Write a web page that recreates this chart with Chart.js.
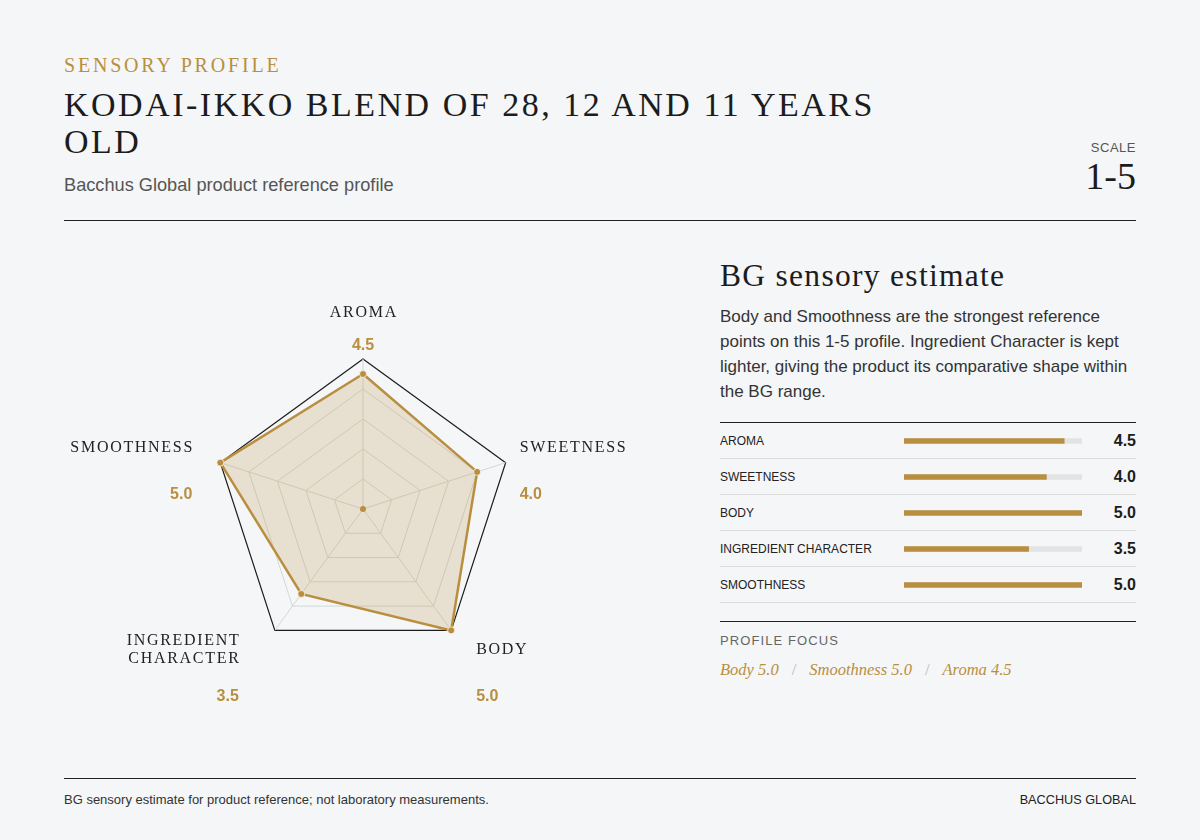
<!DOCTYPE html>
<html>
<head>
<meta charset="utf-8">
<title>Sensory profile</title>
<script src="https://cdn.jsdelivr.net/npm/chart.js@4.4.1/dist/chart.umd.min.js"></script>
<style>
  body {
    margin: 0;
    width: 1200px;
    height: 840px;
    position: relative;
    overflow: hidden;
    background: #f4f6f8;
    font-family: "Liberation Sans", Arial, sans-serif;
    color: #1f1f1f;
  }
  .abs { position: absolute; }
  .serif { font-family: "Liberation Serif", "Times New Roman", serif; }
  .rule { position: absolute; height: 1px; background: #222; }
  #kicker { left: 64px; top: 53px; font-size: 20px; line-height: 24px; letter-spacing: 2.8px; color: #b98f3f; }
  #title { left: 64px; top: 86px; width: 860px; font-size: 34px; line-height: 37px; letter-spacing: 2.5px; color: #1c1c1c; }
  #sub { left: 64px; top: 174px; font-size: 18.2px; line-height: 22px; color: #555; }
  #scaleLbl { right: 64px; top: 140px; font-size: 13px; line-height: 16px; letter-spacing: 0.5px; color: #555; text-align: right; }
  #scaleVal { right: 64px; top: 156px; font-size: 38px; line-height: 40px; color: #1c1c1c; text-align: right; }
  #radarBox { left: 63px; top: 249px; width: 600px; height: 520px; }
  #panelHead { left: 720px; top: 258px; font-size: 31.5px; line-height: 36px; letter-spacing: 1.3px; color: #1c1c1c; }
  #panelText { left: 720px; top: 304px; width: 418px; font-size: 17px; line-height: 25px; color: #333; }
  #table { left: 720px; top: 422px; width: 416px; border-top: 1px solid #222; }
  .row { position: relative; height: 36px; box-sizing: border-box; border-bottom: 1px solid #dcdcdc; }
  .row .name { position: absolute; left: 0; top: 10px; font-size: 12px; line-height: 16px; color: #222; }
  .row .val { position: absolute; right: 0; top: 8px; font-size: 16px; line-height: 20px; font-weight: bold; color: #1c1c1c; }
  #barBox { left: 904px; top: 423px; width: 178px; height: 180px; }
  #focusLbl { left: 720px; top: 633px; font-size: 13px; line-height: 16px; letter-spacing: 1.1px; color: #666; }
  #focus { left: 720px; top: 660px; font-size: 16.5px; line-height: 20px; font-style: italic; color: #b98f3f; }
  #focus .sep { color: #bbb; margin: 0 13px; font-style: normal; }
  #footL { left: 64px; top: 793px; font-size: 13px; line-height: 14px; color: #333; }
  #footR { right: 64px; top: 793px; font-size: 12.7px; line-height: 14px; color: #222; }
</style>
</head>
<body>
<div id="kicker" class="abs serif">SENSORY PROFILE</div>
<div id="title" class="abs serif">KODAI-IKKO BLEND OF 28, 12 AND 11 YEARS OLD</div>
<div id="sub" class="abs">Bacchus Global product reference profile</div>
<div id="scaleLbl" class="abs">SCALE</div>
<div id="scaleVal" class="abs serif">1-5</div>
<div class="rule" style="left:64px;top:220px;width:1072px"></div>

<div id="radarBox" class="abs"><canvas id="radar" width="600" height="520"></canvas></div>

<div id="panelHead" class="abs serif">BG sensory estimate</div>
<div id="panelText" class="abs">Body and Smoothness are the strongest reference points on this 1-5 profile. Ingredient Character is kept lighter, giving the product its comparative shape within the BG range.</div>
<div id="table" class="abs"></div>
<div id="barBox" class="abs"><canvas id="bars" width="178" height="180"></canvas></div>
<div class="rule" style="left:720px;top:621px;width:416px"></div>
<div id="focusLbl" class="abs">PROFILE FOCUS</div>
<div id="focus" class="abs serif"></div>

<div class="rule" style="left:64px;top:778px;width:1072px"></div>
<div id="footL" class="abs">BG sensory estimate for product reference; not laboratory measurements.</div>
<div id="footR" class="abs">BACCHUS GLOBAL</div>

<script>
// profile data
const attributes = ['AROMA', 'SWEETNESS', 'BODY', 'INGREDIENT CHARACTER', 'SMOOTHNESS'];
const scores = [4.5, 4.0, 5.0, 3.5, 5.0];
const scaleMax = [5, 5, 5, 5, 5];
const focusItems = ['Body 5.0', 'Smoothness 5.0', 'Aroma 4.5'];

const gold = '#b98f3f';

// table rows + focus line
const table = document.getElementById('table');
attributes.forEach((name, i) => {
    const row = document.createElement('div');
    row.className = 'row';
    row.innerHTML = `<span class="name">${name}</span><span class="val">${scores[i].toFixed(1)}</span>`;
    table.appendChild(row);
});
document.getElementById('focus').innerHTML =
    focusItems.map(t => `<span>${t}</span>`).join('<span class="sep">/</span>');

// names + values around the radar
const radarLabels = {
    id: 'radarLabels',
    afterDraw(chart) {
        const r = chart.scales.r;
        const ctx = chart.ctx;
        ctx.save();
        attributes.forEach((name, i) => {
            const v = r.getPointPositionForValue(i, r.max);
            const dx = v.x - r.xCenter;
            const upper = v.y < r.yCenter;
            const lines = name.length > 12 ? name.split(' ') : [name];
            let x, align, nameY, valueY;
            if (Math.abs(dx) < 1) {
                align = 'center';
                x = v.x;
                nameY = v.y - 47;
                valueY = v.y - 15;
            } else if (dx > 0) {
                align = 'left';
                x = v.x + (upper ? 14 : 25);
            } else {
                align = 'right';
                x = v.x - (upper ? 28 : 36);
            }
            if (align !== 'center') {
                nameY = upper ? v.y - 16 : v.y + 18;
                valueY = upper ? v.y + 31 : v.y + 65;
            }
            ctx.textAlign = align;
            ctx.textBaseline = 'alphabetic';
            ctx.fillStyle = '#222';
            ctx.font = '16px "Liberation Serif", serif';
            ctx.letterSpacing = '1.7px';
            const shift = align === 'right' ? 1.7 : (align === 'center' ? 0.85 : 0);
            lines.forEach((line, k) => {
                const cy = nameY + (k - (lines.length - 1) / 2) * 18;
                ctx.fillText(line, x + shift, cy + 5.3);
            });
            ctx.letterSpacing = '0px';
            ctx.fillStyle = gold;
            ctx.font = 'bold 16px "Liberation Sans", Arial, sans-serif';
            ctx.fillText(scores[i].toFixed(1), x, valueY + 5.7);
        });
        // centre dot
        ctx.beginPath();
        ctx.arc(r.xCenter, r.yCenter, 3, 0, Math.PI * 2);
        ctx.fillStyle = gold;
        ctx.fill();
        ctx.restore();
    }
};

new Chart('radar', {
    type: 'radar',
    data: {
        labels: attributes,
        datasets: [{
            data: scores,
            borderColor: gold,
            borderWidth: 2.5,
            backgroundColor: 'rgba(185,143,63,0.22)',
            fill: true,
            pointRadius: 3.5,
            pointBackgroundColor: gold,
            pointBorderColor: 'rgba(255,255,255,0.7)',
            pointBorderWidth: 1
        }]
    },
    options: {
        responsive: false,
        animation: false,
        layout: { padding: { left: 150, right: 150, top: 110, bottom: 110 } },
        plugins: { legend: { display: false }, tooltip: { enabled: false } },
        scales: {
            r: {
                min: 0,
                max: 5,
                ticks: { stepSize: 1, display: false },
                pointLabels: { display: false },
                grid: {
                    color: c => c.tick && c.tick.value === 5 ? '#1c1c1c' : '#d6d6d6',
                    lineWidth: c => c.tick && c.tick.value === 5 ? 1.2 : 1
                },
                angleLines: { color: '#d6d6d6' }
            }
        }
    },
    plugins: [radarLabels]
});

new Chart('bars', {
    type: 'bar',
    data: {
        labels: attributes,
        datasets: [
            { data: scores, backgroundColor: gold, barThickness: 5, grouped: false },
            { data: scaleMax, backgroundColor: '#e2e3e5', barThickness: 5, grouped: false }
        ]
    },
    options: {
        indexAxis: 'y',
        responsive: false,
        animation: false,
        layout: { padding: 0 },
        plugins: { legend: { display: false }, tooltip: { enabled: false } },
        scales: {
            x: { display: false, min: 0, max: 5 },
            y: { display: false }
        }
    }
});
</script>
</body>
</html>
